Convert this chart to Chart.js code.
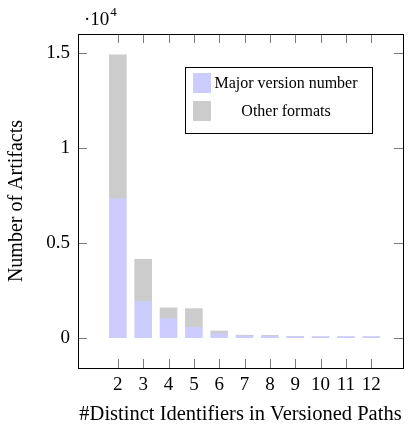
<!DOCTYPE html>
<html>
<head>
<meta charset="utf-8">
<script src="https://cdn.jsdelivr.net/npm/chart.js@4.4.0/dist/chart.umd.min.js"></script>
<style>
  html, body { margin: 0; padding: 0; background: #fff; }
  #wrap { width: 412px; height: 430px; }
</style>
</head>
<body>
<div id="wrap"><canvas id="c" width="412" height="430"></canvas></div>
<script>
// ---- data ----
const categories = [2, 3, 4, 5, 6, 7, 8, 9, 10, 11, 12];
const majorVersion = [7320, 1900, 1000, 540, 210, 90, 80, 50, 45, 45, 45];
const otherFormats = [7580, 2230, 570, 990, 140, 40, 40, 10, 5, 5, 5];
const yTickValues = [0, 5000, 10000, 15000];
const yTickLabels = ['0', '0.5', '1', '1.5'];
const seriesNames = ['Major version number', 'Other formats'];

const FONT = '"Liberation Serif", "DejaVu Serif", serif';
const BLUE = 'rgb(204,204,255)';
const GRAY = 'rgb(204,204,204)';

const framePlugin = {
  id: 'frame',
  afterDatasetsDraw(chart) {
    const {ctx, chartArea: a, scales} = chart;
    ctx.save();
    // inward ticks
    ctx.strokeStyle = '#7a7a7a';
    ctx.lineWidth = 1;
    const tl = 9;
    ctx.beginPath();
    scales.x.ticks.forEach(t => {
      const px = Math.round(scales.x.getPixelForValue(t.value)) + 0.5;
      ctx.moveTo(px, a.bottom); ctx.lineTo(px, a.bottom - tl);
      ctx.moveTo(px, a.top); ctx.lineTo(px, a.top + tl);
    });
    scales.y.ticks.forEach(t => {
      const py = Math.round(scales.y.getPixelForValue(t.value)) + 0.5;
      ctx.moveTo(a.left, py); ctx.lineTo(a.left + tl, py);
      ctx.moveTo(a.right, py); ctx.lineTo(a.right - tl, py);
    });
    ctx.stroke();
    // frame
    ctx.strokeStyle = '#000';
    ctx.lineWidth = 1;
    ctx.strokeRect(Math.round(a.left) + 0.5, Math.round(a.top) + 0.5,
                   Math.round(a.right - a.left), Math.round(a.bottom - a.top));
    // exponent label
    ctx.fillStyle = '#000';
    ctx.textBaseline = 'alphabetic';
    ctx.textAlign = 'left';
    ctx.font = '19px ' + FONT;
    ctx.fillText('\u00b710', 84, 25);
    const w = ctx.measureText('\u00b710').width;
    ctx.font = '13px ' + FONT;
    ctx.fillText('4', 84 + w + 1, 16);
    // legend
    const lx = 185, ly = 67, lw = 187, lh = 66;
    ctx.fillStyle = '#fff';
    ctx.fillRect(lx, ly, lw, lh);
    ctx.strokeStyle = '#000';
    ctx.strokeRect(lx + 0.5, ly + 0.5, lw, lh);
    const cols = [BLUE, GRAY];
    ctx.font = '16px ' + FONT;
    ctx.textAlign = 'center';
    ctx.textBaseline = 'middle';
    chart.data.datasets.forEach((ds, i) => {
      const sy = 73 + i * 28;
      ctx.fillStyle = cols[i];
      ctx.fillRect(193, sy, 18, 20);
      ctx.fillStyle = '#000';
      ctx.fillText(ds.label, 286, sy + 10.5);
    });
    ctx.restore();
  }
};

new Chart(document.getElementById('c'), {
  type: 'bar',
  data: {
    datasets: [
      {
        label: seriesNames[0],
        data: categories.map((c, i) => ({x: c, y: majorVersion[i]})),
        backgroundColor: BLUE,
        borderWidth: 0,
        barThickness: 17
      },
      {
        label: seriesNames[1],
        data: categories.map((c, i) => ({x: c, y: otherFormats[i]})),
        backgroundColor: GRAY,
        borderWidth: 0,
        barThickness: 17
      }
    ]
  },
  options: {
    responsive: false,
    animation: false,
    devicePixelRatio: 1,
    layout: { padding: { top: 34, right: 9, left: 0, bottom: 0 } },
    plugins: { legend: { display: false }, tooltip: { enabled: false } },
    scales: {
      x: {
        type: 'linear',
        stacked: true,
        min: 1.01,
        max: 12.67,
        grid: { display: false, drawTicks: false },
        border: { display: false },
        afterBuildTicks(scale) { scale.ticks = categories.map(v => ({value: v})); },
        afterFit(scale) { scale.height = 62; },
        ticks: {
          color: '#000',
          font: { family: FONT, size: 19 },
          padding: 6,
          maxRotation: 0,
          autoSkip: false,
          callback: (v) => String(v)
        },
        title: {
          display: true,
          text: '#Distinct Identifiers in Versioned Paths',
          color: '#000',
          font: { family: FONT, size: 20.5 },
          padding: { top: 0, bottom: 3 }
        }
      },
      y: {
        stacked: true,
        min: -1600,
        max: 16000,
        grid: { display: false, drawTicks: false },
        border: { display: false },
        afterBuildTicks(scale) { scale.ticks = yTickValues.map(v => ({value: v})); },
        afterFit(scale) { scale.width = 78; },
        ticks: {
          color: '#000',
          font: { family: FONT, size: 19 },
          padding: 8,
          callback: (v) => yTickLabels[yTickValues.indexOf(v)]
        },
        title: {
          display: true,
          text: 'Number of Artifacts',
          color: '#000',
          font: { family: FONT, size: 20 },
          padding: { top: 5, bottom: 0 }
        }
      }
    }
  },
  plugins: [framePlugin]
});
</script>
</body>
</html>
